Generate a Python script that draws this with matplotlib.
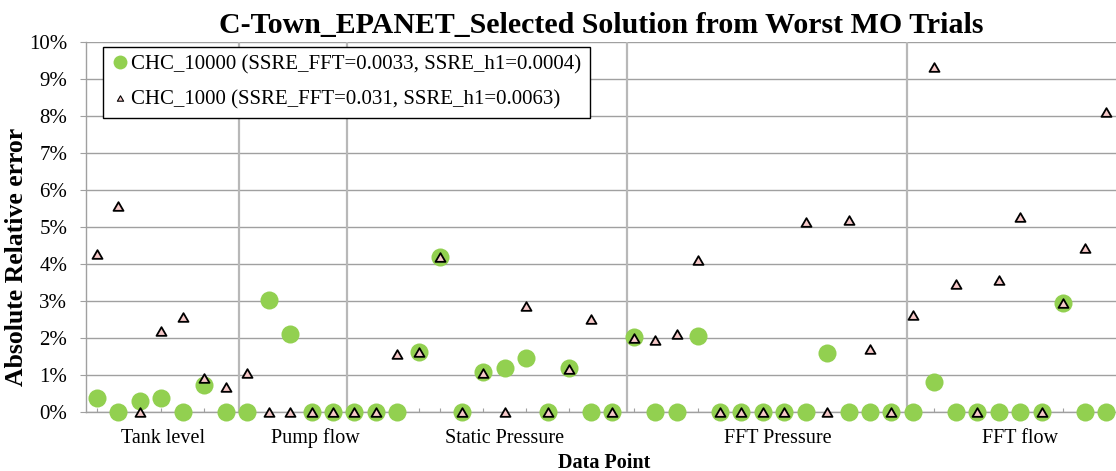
import matplotlib.pyplot as plt
from matplotlib.lines import Line2D
from matplotlib.path import Path

plt.rcParams['font.family'] = 'Liberation Serif'

# Data (absolute relative error, %), one value per data point
chc_10000 = [0.36, 0, 0.30, 0.36, 0, 0.72, 0,
             0, 3.02, 2.10, 0, 0,
             0, 0, 0, 1.62, 4.17, 0, 1.08, 1.17, 1.44, 0, 1.17, 0, 0,
             2.01, 0, 0, 2.05, 0, 0, 0, 0, 0, 1.59, 0, 0, 0,
             0, 0.80, 0, 0, 0, 0, 0, 2.93, 0, 0]
chc_1000 = [4.26, 5.56, 0, 2.18, 2.57, 0.92, 0.68,
            1.05, 0, 0, 0, 0,
            0, 0, 1.56, 1.62, 4.17, 0, 1.05, 0, 2.86, 0, 1.15, 2.50, 0,
            1.99, 1.95, 2.09, 4.10, 0, 0, 0, 0, 5.14, 0, 5.18, 1.70, 0,
            2.62, 9.32, 3.44, 0, 3.56, 5.25, 0, 2.93, 4.43, 8.10]
series_names = ['CHC_10000 (SSRE_FFT=0.0033, SSRE_h1=0.0004)',
                'CHC_1000 (SSRE_FFT=0.031, SSRE_h1=0.0063)']
groups = ['Tank level', 'Pump flow', 'Static Pressure', 'FFT Pressure', 'FFT flow']
y_ticks = [0, 1, 2, 3, 4, 5, 6, 7, 8, 9, 10]

# layout
label_x = [3.1, 10.2, 19.0, 31.7, 43.0]
sep_x = [6.62, 11.64, 24.67, 37.74]

green = '#92D050'
pink = '#F6C8C8'
grey = '#A0A0A0'
# equilateral triangle, centred on its bounding box
tri = Path([(-1, -0.866), (1, -0.866), (0, 0.866), (-1, -0.866)], closed=True)

W, H = 1116, 471
fig = plt.figure(figsize=(W / 100, H / 100), dpi=100)
ax = fig.add_axes([86 / W, (H - 411.7) / H, 1031 / W, 370 / H])

x = list(range(len(chc_10000)))
ax.set_xlim(-0.5, len(x) - 0.5)
ax.set_ylim(0, 10)

ax.set_yticks(y_ticks)
ax.set_yticklabels([f'{v}%' for v in y_ticks])
ax.yaxis.grid(True, color=grey, lw=1.0)
ax.set_axisbelow(True)
ax.tick_params(axis='y', direction='out', length=4.5, width=0.8, color=grey,
               labelsize=15, pad=9)
ax.set_xticks(x)
ax.tick_params(axis='x', direction='in', length=3, width=0.8, color=grey,
               labelbottom=False)

for s in ['top', 'right']:
    ax.spines[s].set_visible(False)
for s in ['left', 'bottom']:
    ax.spines[s].set_color(grey)
    ax.spines[s].set_linewidth(1.0)

for s in sep_x:
    ax.axvline(s, color='#B8B8B8', lw=1.6, zorder=1)

ax.plot(x, chc_10000, ls='none', marker='o', ms=13, color=green, mec='none',
        clip_on=False, zorder=3)
ax.plot(x, chc_1000, ls='none', marker=tri, ms=7.2, mfc=pink, mec='black',
        mew=1.3, clip_on=False, zorder=4)

for lab, gx in zip(groups, label_x):
    ax.text(gx, -0.0846, lab, transform=ax.get_xaxis_transform(),
            ha='center', va='baseline', fontsize=14.5)

handles = [Line2D([], [], ls='none', marker='o', ms=10, color=green, mec='none'),
           Line2D([], [], ls='none', marker=tri, ms=4.5, mfc=pink, mec='black', mew=0.8)]
leg = ax.legend(handles, series_names, loc='upper left',
                bbox_to_anchor=((103.3 - 86) / 1031, (411.7 - 46.7) / 370),
                borderaxespad=0, fontsize=15, fancybox=False, edgecolor='black',
                framealpha=1, borderpad=0.4, labelspacing=0.75,
                handlelength=0.8, handletextpad=0.15)
leg.get_frame().set_linewidth(1.0)
leg.set_zorder(10)

fig.text(601 / W, 1 - 33 / H, 'C-Town_EPANET_Selected Solution from Worst MO Trials',
         ha='center', va='baseline', fontsize=21.5, fontweight='bold')
fig.text(17 / W, 1 - 257 / H, 'Absolute Relative error', rotation=90,
         ha='center', va='center', fontsize=18.5, fontweight='bold')
fig.text(604 / W, 3 / H, 'Data Point', ha='center', va='baseline',
         fontsize=14.5, fontweight='bold')

fig.savefig('out.png', dpi=100)
